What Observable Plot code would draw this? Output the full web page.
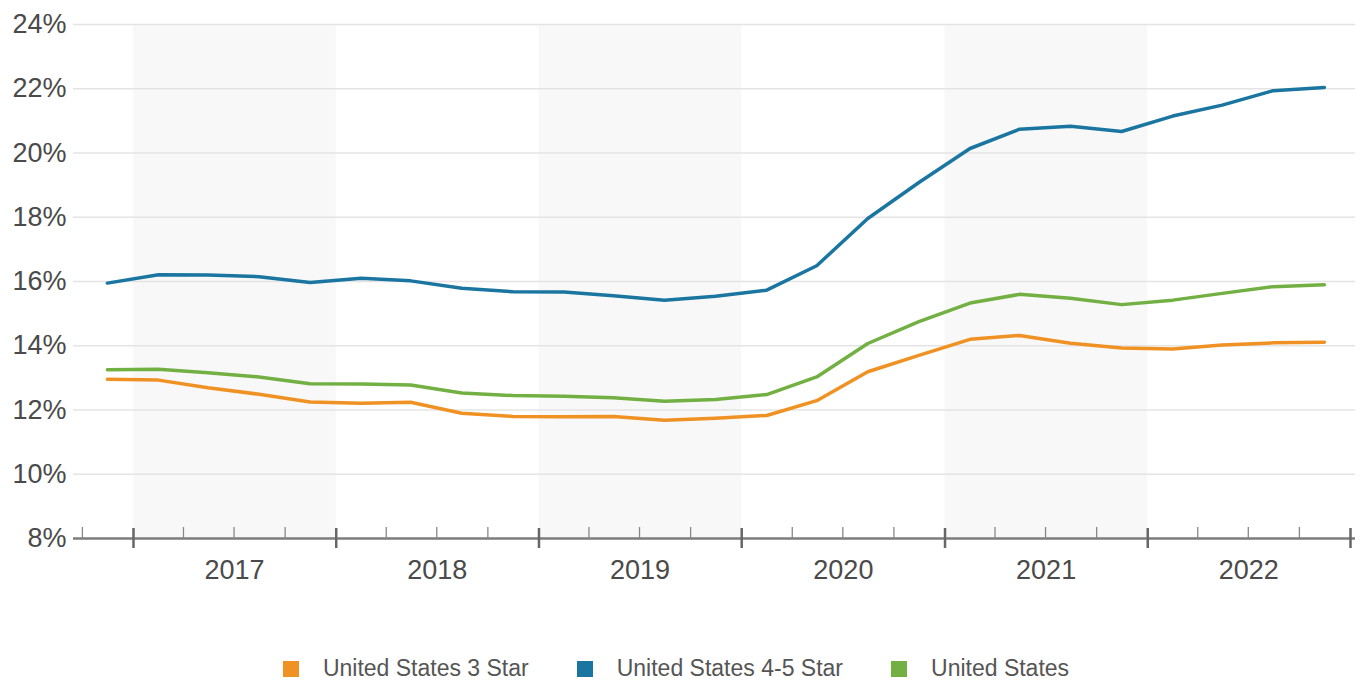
<!DOCTYPE html>
<html>
<head>
<meta charset="utf-8">
<script src="https://cdn.jsdelivr.net/npm/d3@7"></script>
<script src="https://cdn.jsdelivr.net/npm/@observablehq/plot@0.6"></script>
<style>
  html, body { margin: 0; padding: 0; background: #fff; }
  body { font-family: "Liberation Sans", Arial, Helvetica, sans-serif; width: 1370px; }
  #legend { display: flex; justify-content: center; align-items: center; margin-top: 55px; padding-right: 18px; }
  .item { display: flex; align-items: center; margin: 0 24px; font-size: 23px; color: #555; }
  .sw { width: 16px; height: 16px; margin-right: 24px; }
</style>
</head>
<body>
<div id="chart"></div>
<div id="legend"></div>
<script>
// ---- data ----
const quarters = ["2016 Q4",
  "2017 Q1","2017 Q2","2017 Q3","2017 Q4",
  "2018 Q1","2018 Q2","2018 Q3","2018 Q4",
  "2019 Q1","2019 Q2","2019 Q3","2019 Q4",
  "2020 Q1","2020 Q2","2020 Q3","2020 Q4",
  "2021 Q1","2021 Q2","2021 Q3","2021 Q4",
  "2022 Q1","2022 Q2","2022 Q3","2022 Q4"];
const seriesNames = ["United States 3 Star", "United States 4-5 Star", "United States"];
const seriesColors = ["#ef9223", "#1a76a0", "#72b043"];
const star3 = [12.96, 12.93, 12.69, 12.49, 12.25, 12.21, 12.24, 11.90, 11.80, 11.79, 11.80, 11.68, 11.74,
               11.83, 12.29, 13.19, 13.70, 14.20, 14.32, 14.08, 13.93, 13.90, 14.02, 14.09, 14.11];
const star45 = [15.95, 16.21, 16.20, 16.15, 15.97, 16.10, 16.02, 15.79, 15.68, 15.67, 15.56, 15.42, 15.54,
                15.73, 16.49, 17.96, 19.08, 20.14, 20.74, 20.83, 20.67, 21.15, 21.49, 21.94, 22.04];
const unitedStates = [13.25, 13.27, 13.16, 13.03, 12.82, 12.81, 12.78, 12.53, 12.45, 12.43, 12.38, 12.27, 12.33,
                      12.48, 13.03, 14.07, 14.75, 15.33, 15.60, 15.48, 15.28, 15.42, 15.63, 15.84, 15.90];
const yTicks = [8, 10, 12, 14, 16, 18, 20, 22, 24];
const yearLabels = [2017, 2018, 2019, 2020, 2021, 2022];
const shadedYears = [2017, 2019, 2021];
const yearBoundaries = [2017, 2018, 2019, 2020, 2021, 2022, 2023];

// ---- helpers ----
const parseQ = s => { const [y, q] = s.split(" Q"); return new Date(Date.UTC(+y, (+q - 1) * 3 + 1, 15)); };
const yearStart = y => new Date(Date.UTC(y, 0, 1));
const midYear = y => new Date(Date.UTC(y, 6, 2));

const allSeries = [star3, star45, unitedStates];
const rows = [];
allSeries.forEach((vals, k) => quarters.forEach((q, i) => rows.push({date: parseQ(q), value: vals[i], series: seriesNames[k]})));

const xDomain = [new Date(Date.UTC(2016, 8, 15)), new Date(Date.UTC(2023, 0, 10))];
const minorTicks = d3.utcMonth.every(3).range(new Date(Date.UTC(2016, 9, 1)), new Date(Date.UTC(2023, 0, 1)))
  .filter(d => d.getUTCMonth() !== 0);
const base = yTicks[0];

const chart = Plot.plot({
  width: 1370,
  height: 600,
  marginLeft: 73,
  marginRight: 15,
  marginTop: 24,
  marginBottom: 62,
  style: {fontFamily: "'Liberation Sans', Arial, Helvetica, sans-serif", background: "#fff"},
  x: {type: "utc", domain: xDomain},
  y: {domain: [yTicks[0], yTicks[yTicks.length - 1]]},
  color: {domain: seriesNames, range: seriesColors},
  marks: [
    Plot.rect(shadedYears, {x1: d => yearStart(d), x2: d => yearStart(d + 1), fill: "#f8f8f8"}),
    Plot.ruleY(yTicks.slice(1), {stroke: "#e4e4e4", strokeWidth: 1.6}),
    Plot.axisY({ticks: yTicks, tickSize: 0, tickPadding: 7, tickFormat: d => d + "%", label: null, fontSize: 27, color: "#4a4a4a"}),
    Plot.axisX({ticks: yearLabels.map(midYear), tickSize: 0, tickPadding: 21, tickFormat: d3.utcFormat("%Y"), label: null, fontSize: 27, color: "#4a4a4a"}),
    Plot.line(rows, {x: "date", y: "value", z: "series", stroke: "series", strokeWidth: 3.5, strokeLinejoin: "round", strokeLinecap: "round"}),
    Plot.ruleY([base], {stroke: "#7d7d7d", strokeWidth: 2.5}),
    Plot.ruleX(yearBoundaries.map(yearStart), {x: d => d, y1: base, y2: base, insetTop: -10, insetBottom: -10, stroke: "#666", strokeWidth: 2.5}),
    Plot.ruleX(minorTicks, {x: d => d, y1: base, y2: base, insetTop: -11, insetBottom: 0, stroke: "#888", strokeWidth: 1.3})
  ]
});
document.getElementById("chart").appendChild(chart);

const legend = document.getElementById("legend");
seriesNames.forEach((name, i) => {
  const item = document.createElement("div");
  item.className = "item";
  const sw = document.createElement("span");
  sw.className = "sw";
  sw.style.background = seriesColors[i];
  const t = document.createElement("span");
  t.textContent = name;
  item.appendChild(sw);
  item.appendChild(t);
  legend.appendChild(item);
});
</script>
</body>
</html>
